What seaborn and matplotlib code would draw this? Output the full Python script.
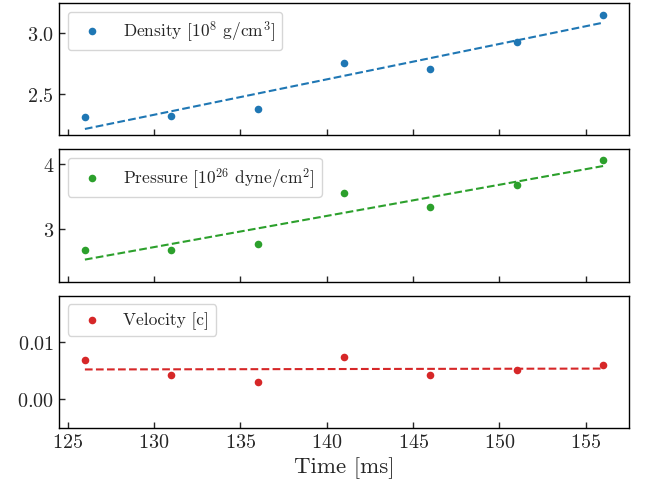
import numpy as np
import pandas as pd
import seaborn as sns
import matplotlib.pyplot as plt
from matplotlib.ticker import MultipleLocator

# values
time_ms = [126, 131, 136, 141, 146, 151, 156]
density = [2.305, 2.316, 2.374, 2.750, 2.706, 2.923, 3.148]        # 1e8 g/cm^3
pressure = [2.679, 2.679, 2.781, 3.546, 3.337, 3.673, 4.051]       # 1e26 dyne/cm^2
velocity = [0.00686, 0.00424, 0.00302, 0.00738, 0.00430, 0.00517, 0.00605]  # c

labels = [r"Density [$10^8$ g/cm$^3$]",
          r"Pressure [$10^{26}$ dyne/cm$^2$]",
          r"Velocity [c]"]
colors = ["tab:blue", "tab:green", "tab:red"]
ylims = [(2.157, 3.245), (2.199, 4.219), (-0.0050, 0.0181)]
ysteps = [0.5, 1.0, 0.01]

sns.set_style("ticks")
plt.rcParams.update({
    "font.family": "serif",
    "font.serif": ["cmr10"],
    "mathtext.fontset": "cm",
    "axes.formatter.use_mathtext": True,
    "axes.unicode_minus": False,
    "xtick.direction": "in",
    "ytick.direction": "in",
    "axes.edgecolor": "black",
    "axes.linewidth": 1.0,
    "xtick.labelsize": 14.5,
    "ytick.labelsize": 14.5,
})

df = pd.DataFrame({"time": time_ms, "density": density,
                   "pressure": pressure, "velocity": velocity})
cols = ["density", "pressure", "velocity"]

fig, axes = plt.subplots(3, 1, figsize=(6.54, 4.89), dpi=100, sharex=True)
fig.subplots_adjust(left=0.0902, right=0.9618, top=0.992, bottom=0.1227, hspace=0.105)

for ax, col, lab, c, yl, st in zip(axes, cols, labels, colors, ylims, ysteps):
    sns.scatterplot(data=df, x="time", y=col, color=c, s=30, linewidth=0,
                    label=lab, ax=ax, zorder=3)
    # linear fit shown as dashed line
    sns.regplot(data=df, x="time", y=col, scatter=False, ci=None, ax=ax,
                line_kws={"color": c, "ls": "--", "lw": 1.5})
    ax.set_ylim(*yl)
    ax.yaxis.set_major_locator(MultipleLocator(st))
    ax.set_ylabel("")
    ax.legend(loc="upper left", fontsize=12.5, frameon=True)
    ax.tick_params(length=4, width=1)

axes[-1].xaxis.set_major_locator(MultipleLocator(5))
axes[-1].set_xlabel("Time [ms]", fontsize=16.5)

fig.savefig("out.png", dpi=100)
